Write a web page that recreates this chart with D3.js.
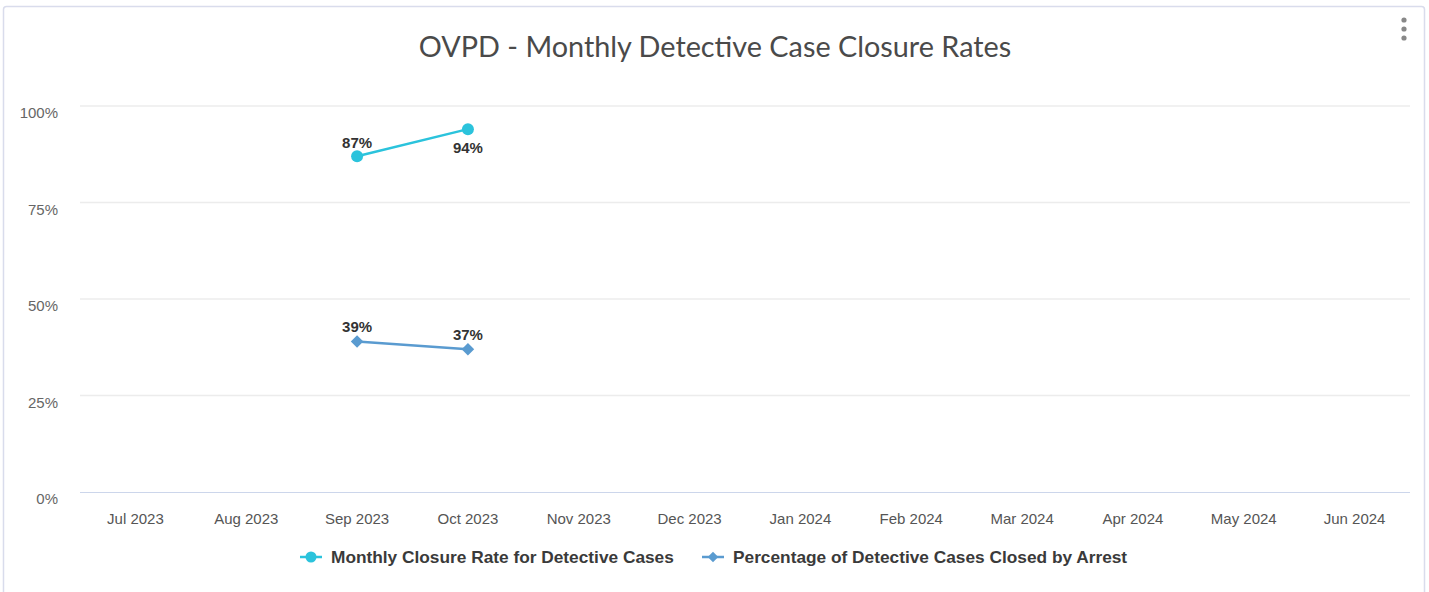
<!DOCTYPE html>
<html><head><meta charset="utf-8">
<script src="https://cdn.jsdelivr.net/npm/d3@7"></script>
<style>
html,body{margin:0;padding:0;background:#fff;}
svg{display:block;}
</style></head>
<body>
<svg id="chart" width="1429" height="592"></svg>
<script>
const title = "OVPD - Monthly Detective Case Closure Rates";
const months = ["Jul 2023","Aug 2023","Sep 2023","Oct 2023","Nov 2023","Dec 2023","Jan 2024","Feb 2024","Mar 2024","Apr 2024","May 2024","Jun 2024"];
const yTicks = [0, 25, 50, 75, 100];
const closureMonths = ["Sep 2023","Oct 2023"];
const closureRate = [87, 94];
const arrestMonths = ["Sep 2023","Oct 2023"];
const arrestRate = [39, 37];
const seriesNames = ["Monthly Closure Rate for Detective Cases","Percentage of Detective Cases Closed by Arrest"];
const seriesColors = ["#2bc3dc","#5a9bd0"];

const svg = d3.select("#chart");
// card
svg.append("rect").attr("x",3.5).attr("y",6.5).attr("width",1421).attr("height",600)
  .attr("rx",3).attr("fill","#fff").attr("stroke","#d9dcec").attr("stroke-width",1.5);

// menu dots
[0,1,2].forEach(i=>svg.append("circle").attr("cx",1404).attr("cy",20+i*9).attr("r",2.6).attr("fill","#888"));

svg.append("text").attr("x",715).attr("y",57).attr("text-anchor","middle")
  .attr("font-family","Lato, 'Open Sans', sans-serif").attr("font-size",28.8)
  .attr("fill","#4a4a4a").text(title);

const x = d3.scaleBand().domain(months).range([80,1410]);
const y = d3.scaleLinear().domain([0,100]).range([492,106]);

// grid
svg.append("g").selectAll("line").data(yTicks.filter(d=>d>0)).join("line")
  .attr("x1",80).attr("x2",1410).attr("y1",d=>y(d)).attr("y2",d=>y(d))
  .attr("stroke","#ececec").attr("stroke-width",1.5);
svg.append("line").attr("x1",80).attr("x2",1410).attr("y1",y(0)+0.5).attr("y2",y(0)+0.5)
  .attr("stroke","#ccd6eb").attr("stroke-width",1.2);

const axFont = "'Liberation Sans', Arial, sans-serif";
// y labels
const yAxis = d3.axisLeft(y).tickValues(yTicks).tickFormat(d=>d+"%").tickSize(0).tickPadding(0);
const gy = svg.append("g").attr("transform","translate(58,7)").call(yAxis);
gy.select(".domain").remove();
gy.selectAll("text").attr("font-family",axFont).attr("font-size",15).attr("fill","#666");

// x labels
const xAxis = d3.axisBottom(x).tickSize(0).tickPadding(0);
const gx = svg.append("g").attr("transform","translate(0,513)").call(xAxis);
gx.select(".domain").remove();
gx.selectAll("text").attr("font-family",axFont).attr("font-size",15).attr("fill","#555");

const cx = m => x(m)+x.bandwidth()/2;
const line = d3.line().x(d=>cx(d.m)).y(d=>y(d.v));

const s1 = closureMonths.map((m,i)=>({m, v:closureRate[i]}));
const s2 = arrestMonths.map((m,i)=>({m, v:arrestRate[i]}));

svg.append("path").datum(s1).attr("d",line).attr("fill","none").attr("stroke",seriesColors[0]).attr("stroke-width",2.5);
svg.append("path").datum(s2).attr("d",line).attr("fill","none").attr("stroke",seriesColors[1]).attr("stroke-width",2.5);

svg.append("g").selectAll("circle").data(s1).join("circle")
  .attr("cx",d=>cx(d.m)).attr("cy",d=>y(d.v)).attr("r",6).attr("fill",seriesColors[0]);
const diamond = d3.symbol().type(d3.symbolDiamond2).size(100);
svg.append("g").selectAll("path").data(s2).join("path")
  .attr("d",diamond).attr("transform",d=>`translate(${cx(d.m)},${y(d.v)})`).attr("fill",seriesColors[1]);

svg.append("g").selectAll("text").data(s1).join("text")
  .attr("x",d=>cx(d.m)).attr("y",(d,i)=> i===0 ? y(d.v)-8 : y(d.v)+24)
  .attr("text-anchor","middle").attr("font-family",axFont).attr("font-size",15).attr("font-weight","bold")
  .attr("fill","#333").text(d=>d.v+"%");
svg.append("g").selectAll("text").data(s2).join("text")
  .attr("x",d=>cx(d.m)).attr("y",d=>y(d.v)-9)
  .attr("text-anchor","middle").attr("font-family",axFont).attr("font-size",15).attr("font-weight","bold")
  .attr("fill","#333").text(d=>d.v+"%");

// legend
const leg = [{x:300, name:seriesNames[0], color:seriesColors[0], sym:"circle"},
             {x:702, name:seriesNames[1], color:seriesColors[1], sym:"diamond"}];
leg.forEach(l=>{
  const g = svg.append("g").attr("transform",`translate(${l.x},557)`);
  g.append("line").attr("x1",0).attr("x2",22).attr("y1",0).attr("y2",0).attr("stroke",l.color).attr("stroke-width",2.5);
  if(l.sym==="circle") g.append("circle").attr("cx",11).attr("cy",0).attr("r",5.5).attr("fill",l.color);
  else g.append("path").attr("d",d3.symbol().type(d3.symbolDiamond2).size(70)).attr("transform","translate(11,0)").attr("fill",l.color);
  g.append("text").attr("x",31).attr("y",6).attr("font-family",axFont).attr("font-size",17.3).attr("font-weight","bold")
    .attr("fill","#3a3a3a").text(l.name);
});
</script>
</body></html>
